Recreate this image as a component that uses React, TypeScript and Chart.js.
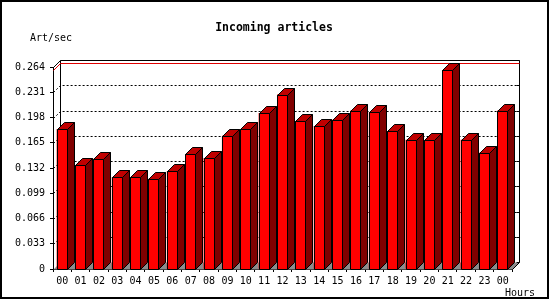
import React, { useEffect, useRef } from "react";
import { Chart, registerables } from "chart.js";

Chart.register(...registerables);

const hours = ["00","01","02","03","04","05","06","07","08","09","10","11","12","13","14","15","16","17","18","19","20","21","22","23","00"];
const articlesPerSec = [0.183,0.136,0.144,0.120,0.120,0.118,0.128,0.150,0.145,0.174,0.183,0.204,0.228,0.193,0.187,0.195,0.207,0.205,0.180,0.169,0.168,0.260,0.169,0.152,0.207];
const yTickValues = [0,0.033,0.066,0.099,0.132,0.165,0.198,0.231,0.264];
const titleText = "Incoming articles";
const yAxisTitle = "Art/sec";
const xAxisTitle = "Hours";

const DEPTH = 7;
const MONO = "'DejaVu Sans Mono', monospace";

const frame3d = {
  id: "frame3d",
  beforeDatasetsDraw(chart: any) {
    const ctx = chart.ctx;
    const ca = chart.chartArea;
    const ys = chart.scales.y;
    const D = DEPTH;
    const L = Math.round(ca.left) + 0.5;
    const R = Math.round(ca.right) + 0.5;
    const B = Math.round(ca.bottom) + 0.5;
    const T = Math.round(ca.top) + 0.5;
    ctx.save();
    // floor
    ctx.fillStyle = "#8c8c8c";
    ctx.beginPath();
    ctx.moveTo(L, B);
    ctx.lineTo(R, B);
    ctx.lineTo(R + D, B - D);
    ctx.lineTo(L + D, B - D);
    ctx.closePath();
    ctx.fill();
    // dotted grid lines
    ctx.strokeStyle = "#000";
    ctx.lineWidth = 1;
    ctx.setLineDash([2, 2]);
    yTickValues.forEach((v) => {
      if (v === 0 || v === yTickValues[yTickValues.length - 1]) return;
      const y = Math.round(ys.getPixelForValue(v)) + 0.5;
      ctx.beginPath();
      ctx.moveTo(L, y);
      ctx.lineTo(L + D, y - D);
      ctx.lineTo(R + D, y - D);
      ctx.stroke();
    });
    ctx.setLineDash([]);
    // right back ticks
    yTickValues.forEach((v) => {
      const y = Math.round(ys.getPixelForValue(v)) + 0.5;
      ctx.beginPath();
      ctx.moveTo(R + D - 3, y - D);
      ctx.lineTo(R + D, y - D);
      ctx.stroke();
    });
    // back wall frame
    ctx.beginPath();
    ctx.moveTo(L, T);
    ctx.lineTo(L + D, T - D);
    ctx.lineTo(R + D, T - D);
    ctx.lineTo(R + D, B - D);
    ctx.lineTo(R, B);
    ctx.moveTo(L + D, T - D);
    ctx.lineTo(L + D, B - D);
    ctx.stroke();
    // max line
    const maxV = Math.max(...articlesPerSec);
    const my = Math.round(ys.getPixelForValue(maxV)) + 0.5;
    ctx.strokeStyle = "#e00000";
    ctx.beginPath();
    ctx.moveTo(L, my);
    ctx.lineTo(L + D, my - D);
    ctx.lineTo(R + D, my - D);
    ctx.stroke();
    ctx.restore();
  },
  afterDatasetsDraw(chart: any) {
    const ctx = chart.ctx;
    const D = DEPTH;
    const meta = chart.getDatasetMeta(0);
    ctx.save();
    ctx.lineWidth = 1;
    ctx.strokeStyle = "#000";
    meta.data.forEach((bar: any) => {
      const p = bar.getProps(["x", "y", "base", "width"], true);
      const left = Math.round(p.x - p.width / 2) + 0.5;
      const right = Math.round(p.x + p.width / 2) - 0.5;
      const top = Math.round(p.y) + 0.5;
      const base = Math.round(p.base) + 0.5;
      // front
      ctx.fillStyle = "#ff0000";
      ctx.beginPath();
      ctx.rect(left, top, right - left, base - top);
      ctx.fill();
      ctx.stroke();
      // top
      ctx.fillStyle = "#c00000";
      ctx.beginPath();
      ctx.moveTo(left, top);
      ctx.lineTo(left + D, top - D);
      ctx.lineTo(right + D, top - D);
      ctx.lineTo(right, top);
      ctx.closePath();
      ctx.fill();
      ctx.stroke();
      // side
      ctx.fillStyle = "#800000";
      ctx.beginPath();
      ctx.moveTo(right, top);
      ctx.lineTo(right + D, top - D);
      ctx.lineTo(right + D, base - D);
      ctx.lineTo(right, base);
      ctx.closePath();
      ctx.fill();
      ctx.stroke();
    });
    ctx.restore();
  },
  afterDraw(chart: any) {
    const ctx = chart.ctx;
    ctx.save();
    ctx.fillStyle = "#000";
    ctx.textBaseline = "alphabetic";
    ctx.font = "bold 11.5px " + MONO;
    ctx.textAlign = "center";
    ctx.fillText(titleText, 274, 31);
    ctx.font = "10px " + MONO;
    ctx.textAlign = "left";
    ctx.fillText(yAxisTitle, 30, 40.5);
    ctx.fillText(xAxisTitle, 505, 296);
    ctx.lineWidth = 2;
    ctx.strokeStyle = "#000";
    ctx.strokeRect(1, 1, 547, 297);
    ctx.restore();
  },
};

export default function App() {
  const ref = useRef<HTMLCanvasElement | null>(null);
  useEffect(() => {
    if (!ref.current) return;
    const chart = new Chart(ref.current, {
      type: "bar",
      data: {
        labels: hours,
        datasets: [
          {
            data: articlesPerSec,
            backgroundColor: "#ff0000",
            borderColor: "#000",
            borderWidth: 0,
            barPercentage: 0.6,
            categoryPercentage: 1,
          },
        ],
      },
      options: {
        animation: false,
        responsive: false,
        devicePixelRatio: 1,
        layout: { padding: { left: 0, top: 67, right: 38, bottom: 0 } },
        plugins: { legend: { display: false }, tooltip: { enabled: false }, title: { display: false } },
        scales: {
          x: {
            offset: true,
            grid: { offset: true, drawOnChartArea: false, drawTicks: true, tickLength: 3, color: "#000" },
            border: { display: true, color: "#000" },
            ticks: { color: "#000", font: { family: MONO, size: 10 }, padding: 3, maxRotation: 0, autoSkip: false },
            afterFit: (s: any) => { s.height = 31; },
          },
          y: {
            min: 0,
            max: 0.264,
            afterBuildTicks: (s: any) => { s.ticks = yTickValues.map((v) => ({ value: v })); },
            grid: { drawOnChartArea: false, drawTicks: true, tickLength: 3, color: "#000" },
            border: { display: true, color: "#000" },
            ticks: {
              color: "#000",
              font: { family: MONO, size: 10 },
              padding: 5,
              callback: (v: any) => (Number(v) === 0 ? "0" : Number(v).toFixed(3)),
            },
            afterFit: (s: any) => { s.width = 53; },
          },
        },
      },
      plugins: [frame3d],
    });
    return () => chart.destroy();
  }, []);
  return (
    <div style={{ position: "fixed", left: 0, top: 0, width: 550, height: 300, background: "#fff" }}>
      <canvas ref={ref} width={550} height={300} style={{ display: "block" }} />
    </div>
  );
}
